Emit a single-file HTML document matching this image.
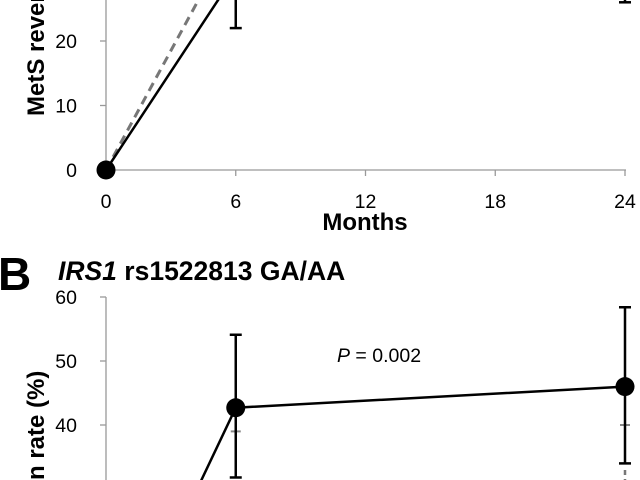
<!DOCTYPE html>
<html><head><meta charset="utf-8"><style>
html,body{margin:0;padding:0;background:#fff;width:640px;height:480px;overflow:hidden}
svg{display:block;font-family:"Liberation Sans",sans-serif;overflow:hidden}
</style></head><body>
<svg id="c" width="640" height="480" viewBox="0 0 640 480">
<text x="-2" y="290" font-size="46" font-weight="bold">B</text>
<text x="58" y="280" font-size="26.5" font-weight="bold"><tspan font-style="italic">IRS1</tspan> rs1522813 GA/AA</text>
<text x="365" y="230" font-size="24" font-weight="bold" text-anchor="middle">Months</text>
<text transform="translate(44,116) rotate(-90)" font-size="24" font-weight="bold">MetS reversion rate (%)</text>
<text transform="translate(44,480) rotate(-90)" font-size="24" font-weight="bold">n rate  (%)</text>
<text x="337" y="362" font-size="19.5"><tspan font-style="italic">P</tspan> = 0.002</text>
</svg>
<script>
const months=[0,6,24];
const xTicks=[0,6,12,18,24];
const aTicks=[0,10,20];
const aSolid=[0,30.5,33];
const aSolidLo=[null,22,26];
const aDashed=[0,37,38];
const bTicks=[40,50,60];
const bMonths=[0,6,24];
const bSolid=[0,42.7,46];
const bLo=[null,31.8,34];
const bHi=[null,54.1,58.4];
const bGrey=[null,39,40];
const svg=document.getElementById('c');
const NS='http://www.w3.org/2000/svg';
function el(t,a){const e=document.createElementNS(NS,t);for(const k in a)e.setAttribute(k,a[k]);svg.appendChild(e);return e;}
const X=m=>106+m*(519/24);
const YA=v=>170-v*6.45;
const YB=v=>297+(60-v)*6.4;
let e=el('line',{x1:106,y1:0,x2:106,y2:170,stroke:'#999','stroke-width':1.3});

e=el('line',{x1:106,y1:170,x2:626,y2:170,stroke:'#999','stroke-width':1.3});

aTicks.forEach(t=>{const y=YA(t);
 e=el('line',{x1:100,y1:y,x2:106,y2:y,stroke:'#999','stroke-width':1.3});
 
 e=el('text',{x:77,y:y+7,'font-size':19.5,'text-anchor':'end'});e.textContent=t;
 });
xTicks.forEach(t=>{const x=X(t);
 e=el('line',{x1:x,y1:170,x2:x,y2:176,stroke:'#999','stroke-width':1.3});
 
 e=el('text',{x:x,y:208,'font-size':19.5,'text-anchor':'middle'});e.textContent=t;
 });
e=el('polyline',{points:months.map((m,i)=>X(m)+','+YA(aDashed[i])).join(' '),fill:'none',stroke:'#777','stroke-width':3,'stroke-dasharray':'9,6'});

e=el('polyline',{points:months.map((m,i)=>X(m)+','+YA(aSolid[i])).join(' '),fill:'none',stroke:'#000','stroke-width':2.5});

months.forEach((m,i)=>{if(aSolidLo[i]==null)return;const x=X(m);
 e=el('line',{x1:x,y1:YA(aSolid[i]),x2:x,y2:YA(aSolidLo[i]),stroke:'#000','stroke-width':2.5});
 
 e=el('line',{x1:x-6,y1:YA(aSolidLo[i]),x2:x+6,y2:YA(aSolidLo[i]),stroke:'#000','stroke-width':2.5});
 });
e=el('circle',{cx:X(0),cy:YA(aSolid[0]),r:9.5,fill:'#000'});

e=el('line',{x1:106,y1:297,x2:106,y2:480,stroke:'#999','stroke-width':1.3});

bTicks.forEach(t=>{const y=YB(t);
 e=el('line',{x1:100,y1:y,x2:106,y2:y,stroke:'#999','stroke-width':1.3});
 
 e=el('text',{x:77,y:y+7,'font-size':19.5,'text-anchor':'end'});e.textContent=t;
 });
bMonths.forEach((m,i)=>{if(bGrey[i]==null)return;const x=X(m);
 e=el('line',{x1:x-5,y1:YB(bGrey[i]),x2:x+5,y2:YB(bGrey[i]),stroke:'#888','stroke-width':2});
 });
e=el('line',{x1:X(24),y1:470,x2:X(24),y2:480,stroke:'#777','stroke-width':2.5,'stroke-dasharray':'5,4'});

e=el('polyline',{points:bMonths.map((m,i)=>X(m)+','+YB(bSolid[i])).join(' '),fill:'none',stroke:'#000','stroke-width':2.5});

bMonths.forEach((m,i)=>{if(bLo[i]==null)return;const x=X(m);
 e=el('line',{x1:x,y1:YB(bHi[i]),x2:x,y2:YB(bLo[i]),stroke:'#000','stroke-width':2.5});
 
 [bHi[i],bLo[i]].forEach(v=>{e=el('line',{x1:x-6,y1:YB(v),x2:x+6,y2:YB(v),stroke:'#000','stroke-width':2.5});
 });
 e=el('circle',{cx:x,cy:YB(bSolid[i]),r:9.5,fill:'#000'});
 });
</script>
</body></html>
